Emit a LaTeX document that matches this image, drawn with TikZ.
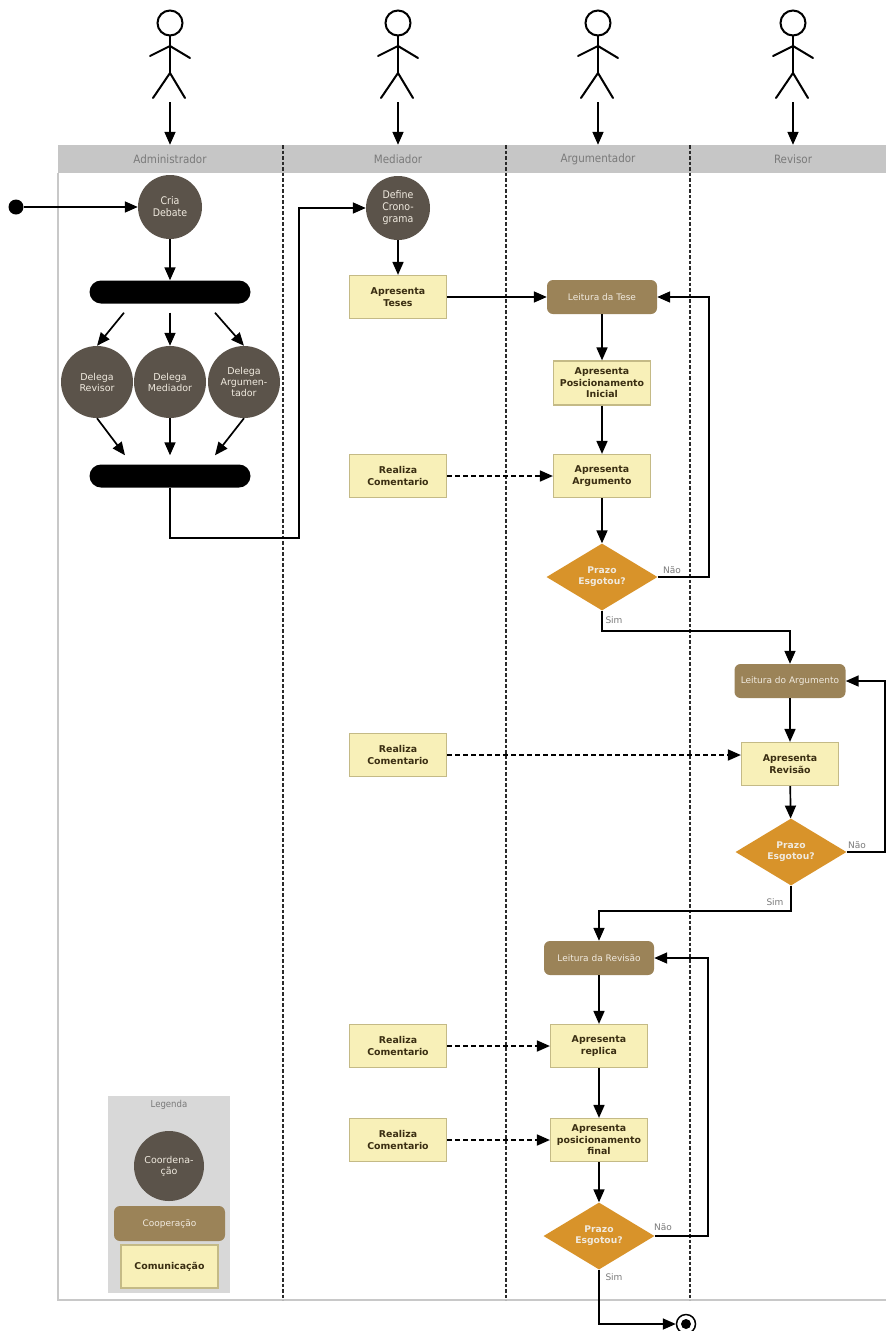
\documentclass[tikz,border=0pt]{standalone}
\usepackage{fontspec}
\setmainfont{DejaVu Sans}
\newfontfamily\condf{DejaVu Sans Condensed}
\usetikzlibrary{arrows.meta,shapes.geometric,calc}
\definecolor{coordc}{HTML}{5B534A}
\definecolor{coopc}{HTML}{9B8358}
\definecolor{commc}{HTML}{F8F0B8}
\definecolor{commb}{HTML}{C4BA86}
\definecolor{decc}{HTML}{D8932A}
\definecolor{hdrc}{HTML}{C6C6C6}
\definecolor{legc}{HTML}{D8D8D8}
\definecolor{brdc}{HTML}{C8C8C8}
\definecolor{lblc}{HTML}{7A7A7A}
\definecolor{dtxt}{HTML}{3A2E12}
\definecolor{ltxt}{HTML}{F0EADF}
\definecolor{divc}{HTML}{2A2A2A}
\begin{document}
\begin{tikzpicture}[x=1pt,y=-1pt,
  flow/.style={-{Triangle[length=13pt,width=11pt]},line width=1.7pt},
  dflow/.style={flow,dash pattern=on 5pt off 3pt},
  coordnode/.style={circle,fill=coordc,text=ltxt,minimum size=64pt,inner sep=0pt,align=center,font=\condf\fontsize{10.5}{12}\selectfont},
  delnode/.style={circle,fill=coordc,text=ltxt,minimum size=72pt,inner sep=0pt,align=center,font=\fontsize{9.5}{11}\selectfont},
  coopnode/.style={rectangle,rounded corners=6pt,fill=coopc,text=ltxt,minimum width=110pt,minimum height=34pt,inner sep=1pt,align=center,font=\fontsize{9}{11}\selectfont},
  commnode/.style={rectangle,fill=commc,draw=commb,line width=1.2pt,minimum width=97pt,minimum height=43pt,inner sep=2pt,align=center,text=dtxt,font=\bfseries\fontsize{9.4}{11.5}\selectfont},
  decnode/.style={diamond,fill=decc,text=ltxt,minimum width=111pt,minimum height=62pt,inner sep=0pt,align=center,font=\bfseries\fontsize{9.2}{11}\selectfont},
  barnode/.style={rectangle,fill=black,rounded corners=11.5pt,minimum width=161pt,minimum height=23pt,inner sep=0pt},
  hlabel/.style={minimum height=28pt,inner sep=0pt,text=lblc,font=\condf\fontsize{11.5}{13}\selectfont},
  small/.style={inner sep=0pt,text=lblc,font=\fontsize{9}{10}\selectfont},
  divider/.style={divc,line width=1.4pt,dash pattern=on 3.5pt off 2pt},
  actor/.style={line width=2pt,line cap=round}
]
\useasboundingbox (0,0) rectangle (886,1331);
% header and frame
\fill[hdrc] (58,145) rectangle (886,173);
\draw[brdc,line width=1.5pt] (58,173) -- (58,1300) -- (886,1300);
\foreach \x in {283,506,690} \draw[divider] (\x,145) -- (\x,1300);
% actors
\foreach \x/\n in {170/1,398/2,598/3,793/4}{
  \draw[actor] (\x,23) circle (12.5pt);
  \draw[actor] (\x,35.5) -- (\x,73);
  \draw[actor] (\x-20,56) -- (\x,46) -- (\x+20,58);
  \draw[actor] (\x-17,98) -- (\x,73) -- (\x+15,98);
  \coordinate (a\n) at (\x,102);
}
\node[hlabel] (h1) at (170,159) {Administrador};
\node[hlabel] (h2) at (398,159) {Mediador};
\node[hlabel] (h3) at (598,159) {Argumentador};
\node[hlabel] (h4) at (793,159) {Revisor};
\foreach \n in {1,2,3,4} \draw[flow] (a\n) -- (h\n.north);
% legend
\fill[legc] (108,1096) rectangle (230,1293);
\node[small,font=\condf\fontsize{9.5}{10}\selectfont] (legt) at (169,1105) {Legenda};
\node[delnode,minimum size=70pt] (lc) at (169,1166) {Coordena-\\ção};
\node[coopnode,minimum width=111pt,minimum height=35pt] (lcp) at (169.5,1223.5) {Cooperação};
\node[commnode] (lcm) at (169.5,1266.5) {Comunicação};
% administrator
\node[circle,fill=black,minimum size=15pt,inner sep=0pt] (start) at (16,207) {};
\node[coordnode] (cria) at (170,207) {Cria\\Debate};
\node[barnode] (fork) at (170,292) {};
\node[delnode] (dr) at (97,382) {Delega\\Revisor};
\node[delnode] (dm) at (170,382) {Delega\\Mediador};
\node[delnode] (da) at (244,382) {Delega\\Argumen-\\tador};
\node[barnode] (join) at (170,476) {};
\draw[flow] (start) -- (cria);
\draw[flow] (cria) -- (fork);
\draw[flow] ([xshift=-46pt,yshift=-9pt]fork.south) -- (dr.north);
\draw[flow] ([yshift=-9pt]fork.south) -- (dm.north);
\draw[flow] ([xshift=45pt,yshift=-9pt]fork.south) -- (da.north);
\draw[flow] (dr.south) -- ([xshift=-45pt,yshift=9pt]join.north);
\draw[flow] (dm.south) -- ([yshift=9pt]join.north);
\draw[flow] (da.south) -- ([xshift=45pt,yshift=9pt]join.north);
% mediator
\node[coordnode] (def) at (398,208) {Define\\Crono-\\grama};
\draw[flow] (join.south) -- ++(0,50) -| ($(def.west)+(-67,0)$) -- (def.west);
\node[commnode] (teses) at (398,297) {Apresenta\\Teses};
\node[commnode] (rc1) at (398,476) {Realiza\\Comentario};
\node[commnode] (rc2) at (398,755) {Realiza\\Comentario};
\node[commnode] (rc3) at (398,1046) {Realiza\\Comentario};
\node[commnode] (rc4) at (398,1140) {Realiza\\Comentario};
\draw[flow] (def) -- (teses);
% argumentador block 1
\node[coopnode] (lt) at (602,297) {Leitura da Tese};
\node[commnode,minimum height=44pt] (pi) at (602,383) {Apresenta\\Posicionamento\\Inicial};
\node[commnode] (arg) at (602,476) {Apresenta\\Argumento};
\node[decnode] (d1) at (602,577) {Prazo\\Esgotou?};
\draw[flow] (teses) -- (lt);
\draw[flow] (lt) -- (pi);
\draw[flow] (pi) -- (arg);
\draw[flow] (arg) -- (d1);
\draw[dflow] (rc1) -- (arg);
\draw[flow] (d1.east) -- ++(51,0) |- (lt.east);
\node[small] (n1) at (672,570) {Não};
\node[small] (s1) at (614,620) {Sim};
% revisor block
\node[coopnode,minimum width=111pt] (la) at (790,681) {Leitura do Argumento};
\node[commnode] (ar) at (790,764) {Apresenta\\Revisão};
\node[decnode] (d2) at (791,852) {Prazo\\Esgotou?};
\draw[flow] (d1.south) -- ++(0,20) -| (la.north);
\draw[flow] (la) -- (ar);
\draw[flow] (ar) -- (d2);
\draw[dflow] (rc2.east) -- (rc2.east -| ar.west);
\draw[flow] (d2.east) -- ++(38,0) |- (la.east);
\node[small] (n2) at (857,845) {Não};
\node[small] (s2) at (775,902) {Sim};
% argumentador block 2
\node[coopnode] (lr) at (599,958) {Leitura da Revisão};
\node[commnode] (rep) at (599,1046) {Apresenta\\replica};
\node[commnode] (pf) at (599,1140) {Apresenta\\posicionamento\\final};
\node[decnode] (d3) at (599,1236) {Prazo\\Esgotou?};
\draw[flow] (d2.south) -- ++(0,25) -| (lr.north);
\draw[flow] (lr) -- (rep);
\draw[flow] (rep) -- (pf);
\draw[flow] (pf) -- (d3);
\draw[dflow] (rc3) -- (rep);
\draw[dflow] (rc4) -- (pf);
\draw[flow] (d3.east) -- ++(53,0) |- (lr.east);
\node[small] (n3) at (663,1227) {Não};
\node[small] (s3) at (614,1277) {Sim};
% end
\node[circle,draw=black,fill=white,line width=1.5pt,minimum size=19pt,inner sep=0pt] (end) at (686,1324) {};
\fill (end.center) circle (5pt);
\draw[flow] (d3.south) |- (end.west);
\end{tikzpicture}
\end{document}
